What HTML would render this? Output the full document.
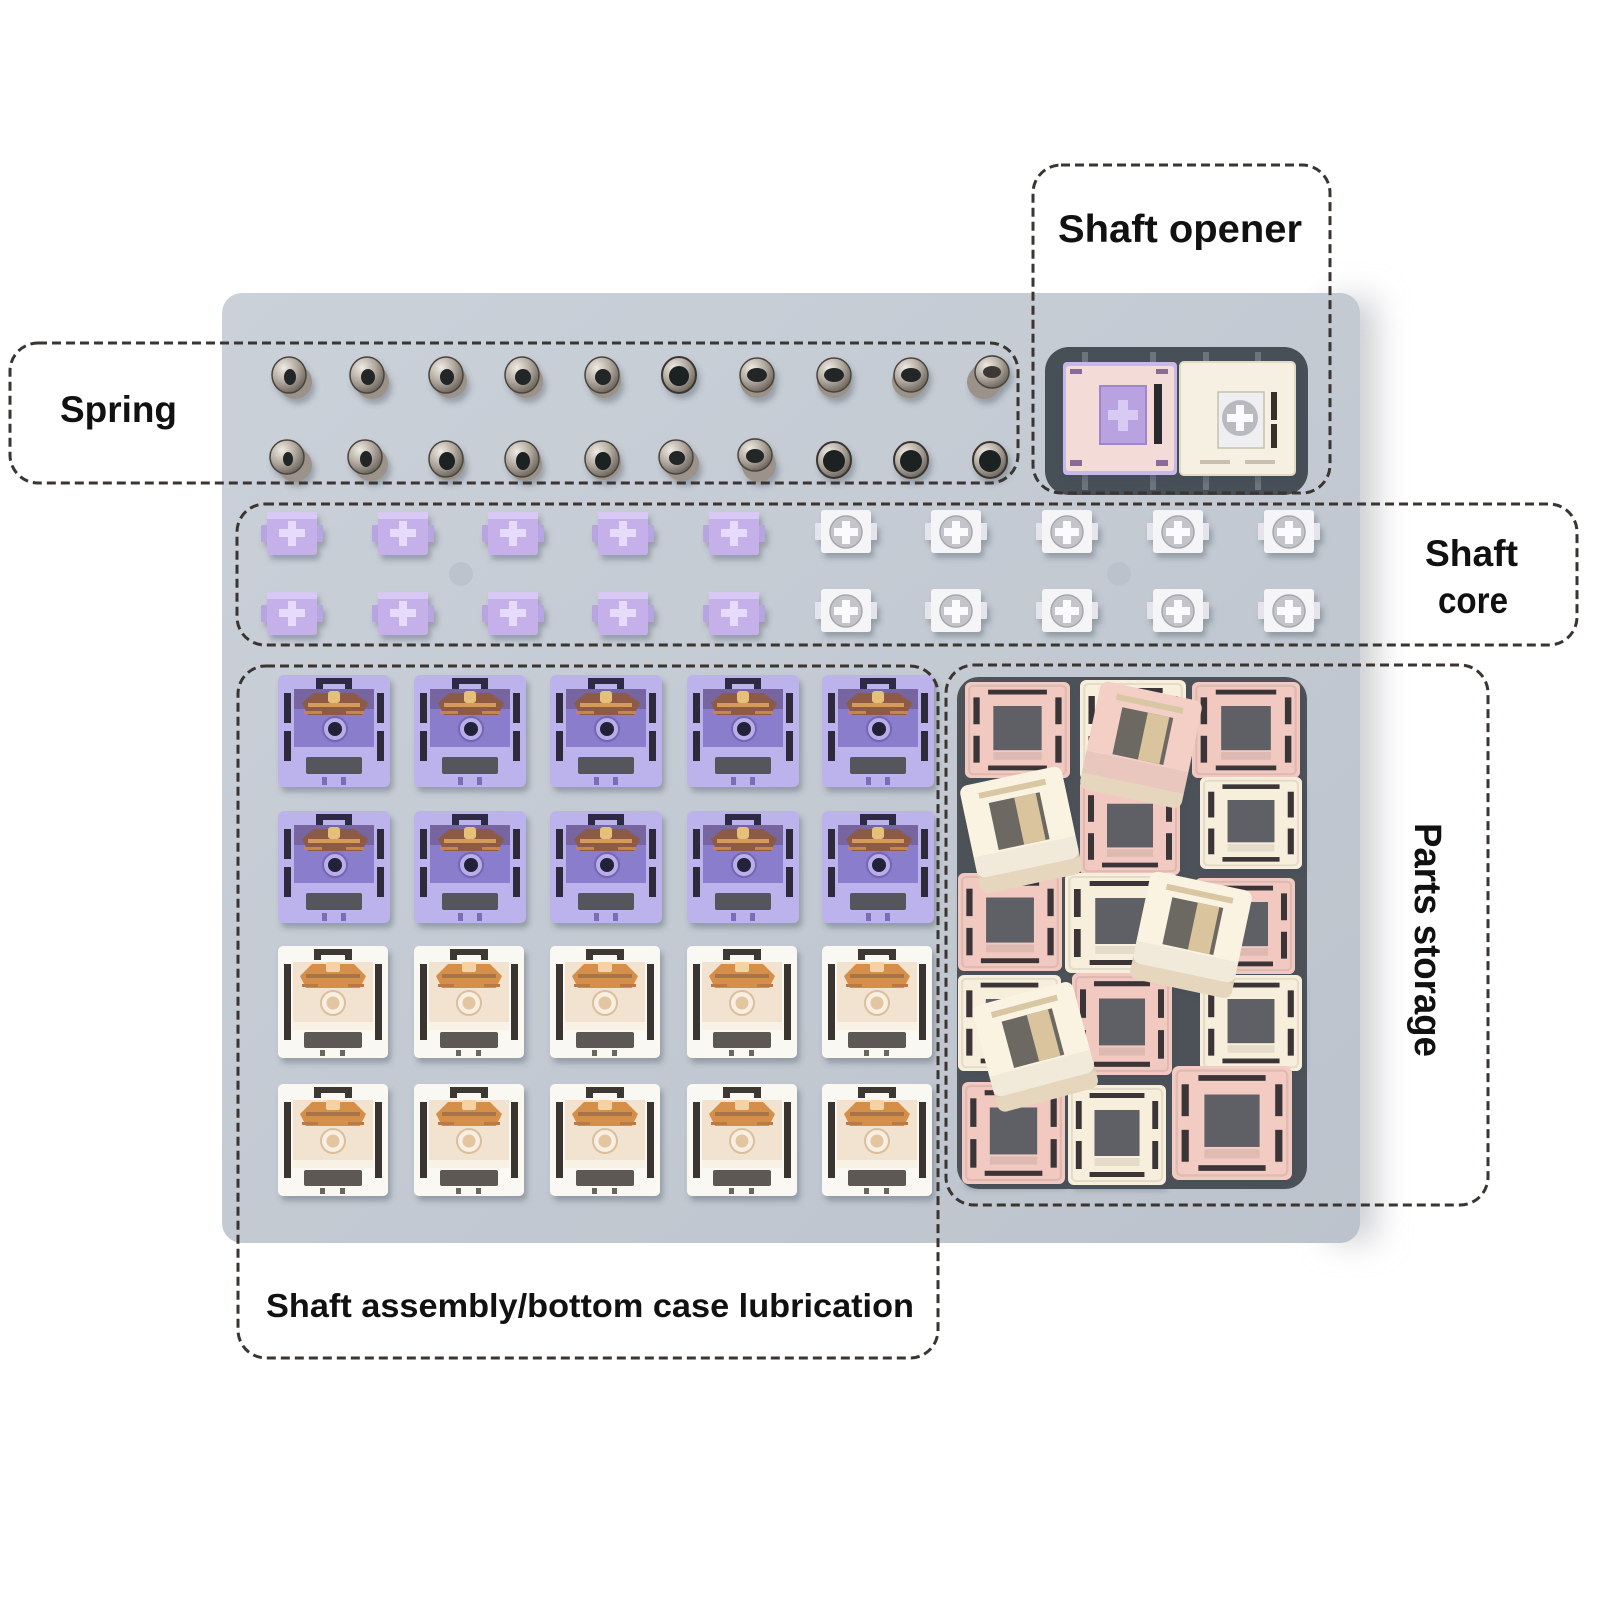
<!DOCTYPE html>
<html><head><meta charset="utf-8"><style>
html,body{margin:0;padding:0;background:#fff;}
svg{display:block;}
text{font-family:"Liberation Sans",Arial,sans-serif;font-weight:700;fill:#111;}
</style></head><body>
<svg width="1600" height="1600" viewBox="0 0 1600 1600" xmlns="http://www.w3.org/2000/svg">
<defs>
  <linearGradient id="tray" x1="0" y1="0" x2="1" y2="1">
    <stop offset="0" stop-color="#cbd1d9"/><stop offset="1" stop-color="#bcc3cc"/>
  </linearGradient>
  <radialGradient id="metal" cx="0.35" cy="0.3" r="0.8">
    <stop offset="0" stop-color="#efebe4"/><stop offset="0.5" stop-color="#b1a99f"/><stop offset="1" stop-color="#5e574f"/>
  </radialGradient>
  <filter id="ds" x="-30%" y="-30%" width="160%" height="160%">
    <feDropShadow dx="3" dy="5" stdDeviation="3" flood-color="#3e4852" flood-opacity="0.35"/>
  </filter>
  <filter id="blur14" filterUnits="userSpaceOnUse" x="1250" y="240" width="250" height="1060">
    <feGaussianBlur stdDeviation="16"/>
  </filter>

  <!-- purple switch bottom -->
  <g id="swp">
    <rect x="0" y="0" width="112" height="112" rx="6" fill="#bdb3ec"/>
    <rect x="16" y="14" width="80" height="64" fill="#8a7dcb"/>
    <rect x="16" y="14" width="80" height="20" fill="#76659f"/>
    <rect x="6" y="18" width="7" height="30" fill="#2d2a3a"/>
    <rect x="6" y="56" width="7" height="30" fill="#2d2a3a"/>
    <rect x="99" y="18" width="7" height="30" fill="#2d2a3a"/>
    <rect x="99" y="56" width="7" height="30" fill="#2d2a3a"/>
    <path d="M38 3 h36 v11 h-7 v-5 h-22 v5 h-7z" fill="#2f2b44"/>
    <path d="M24 28 L36 18 H76 L90 28 L84 40 H30 Z" fill="#8c5a44"/>
    <rect x="30" y="28" width="52" height="4" fill="#d69a5c"/>
    <rect x="50" y="16" width="12" height="12" rx="3" fill="#e6c07a"/>
    <rect x="26" y="36" width="18" height="3" fill="#c7844c"/>
    <rect x="68" y="36" width="18" height="3" fill="#c7844c"/>
    <circle cx="57" cy="54" r="12" fill="#b9aee8" stroke="#7566b4" stroke-width="2"/>
    <circle cx="57" cy="54" r="7" fill="#23223a"/>
    <rect x="16" y="72" width="80" height="8" fill="#bdb3ec"/>
    <rect x="28" y="82" width="56" height="17" rx="2" fill="#55565c"/>
    <rect x="44" y="102" width="5" height="8" fill="#7a6db6"/>
    <rect x="63" y="102" width="5" height="8" fill="#7a6db6"/>
  </g>
  <!-- cream switch bottom -->
  <g id="swc">
    <rect x="0" y="0" width="110" height="112" rx="5" fill="#faf8f3"/>
    <rect x="15" y="16" width="80" height="62" fill="#f2e3d1"/>
    <rect x="6" y="18" width="7" height="76" fill="#3a3532"/>
    <rect x="97" y="18" width="7" height="76" fill="#3a3532"/>
    <path d="M36 3 h38 v11 h-7 v-5 h-24 v5 h-7z" fill="#3d3733"/>
    <path d="M22 30 L34 18 H76 L88 30 L82 42 H28 Z" fill="#d58f4a"/>
    <rect x="28" y="28" width="54" height="4" fill="#a8744a"/>
    <rect x="48" y="16" width="14" height="10" rx="2" fill="#f3d3a4"/>
    <rect x="24" y="38" width="16" height="3" fill="#b97a44"/>
    <rect x="70" y="38" width="16" height="3" fill="#b97a44"/>
    <circle cx="55" cy="57" r="12" fill="#f8efe2" stroke="#d9bf9d" stroke-width="2"/>
    <circle cx="55" cy="57" r="6.5" fill="#e3c6a0"/>
    <rect x="15" y="76" width="80" height="8" fill="#f8f1e6"/>
    <rect x="26" y="86" width="58" height="16" rx="2" fill="#5d5955"/>
    <rect x="42" y="104" width="5" height="6" fill="#6d6661"/>
    <rect x="62" y="104" width="5" height="6" fill="#6d6661"/>
  </g>
  <!-- storage housing flat -->
  <g id="hs">
    <rect x="0" y="0" width="100" height="100" rx="6" fill="currentColor"/>
    <rect x="4" y="4" width="92" height="92" rx="4" fill="none" stroke="#000" stroke-opacity="0.08" stroke-width="2"/>
    <rect x="27" y="25" width="46" height="46" fill="#5f6166"/>
    <rect x="8" y="16" width="6" height="28" fill="#3b3638"/>
    <rect x="8" y="56" width="6" height="28" fill="#3b3638"/>
    <rect x="86" y="16" width="6" height="28" fill="#3b3638"/>
    <rect x="86" y="56" width="6" height="28" fill="#3b3638"/>
    <rect x="22" y="8" width="56" height="5" fill="#3b3638"/>
    <rect x="22" y="87" width="56" height="5" fill="#3b3638"/>
    <rect x="27" y="73" width="46" height="8" fill="#000" opacity="0.08"/>
  </g>
  <!-- tilted housing (3D) -->
  <g id="ht">
    <rect x="0" y="10" width="104" height="100" rx="8" fill="#e5d6bd"/>
    <rect x="0" y="0" width="104" height="94" rx="8" fill="currentColor"/>
    <rect x="26" y="22" width="52" height="48" fill="#6c6862"/>
    <rect x="52" y="22" width="22" height="48" fill="#d9c49e"/>
    <rect x="18" y="10" width="68" height="6" fill="#d9c7a4"/>
    <rect x="0" y="72" width="104" height="22" fill="#000" opacity="0.04"/>
  </g>
  <!-- purple core -->
  <g id="pc">
    <rect x="-31" y="-8" width="8" height="17" rx="1" fill="#b9a4e2"/><rect x="23" y="-8" width="8" height="17" rx="1" fill="#b9a4e2"/>
    <rect x="-25" y="-21" width="50" height="43" rx="3" fill="#c5b0ea"/><rect x="-25" y="-21" width="50" height="7" fill="#d8c9f4"/>
    <path d="M-4 -12h8v8h9v8h-9v9h-8v-9h-9v-8h9z" fill="#e6dbfb"/>
  </g>
  <!-- white core -->
  <g id="wc">
    <rect x="-31" y="-8" width="8" height="17" rx="1" fill="#e4e4ea"/><rect x="23" y="-8" width="8" height="17" rx="1" fill="#e4e4ea"/>
    <rect x="-25" y="-21" width="50" height="43" rx="3" fill="#f5f5f8"/>
    <circle cx="0" cy="1" r="16" fill="#c4c5cb" stroke="#a7a8ae" stroke-width="1.5"/>
    <path d="M-4 -10h8v7h8v8h-8v8h-8v-8h-8v-8h8z" fill="#fbfbfd"/>
  </g>
</defs>

<rect width="1600" height="1600" fill="#fff"/>

<!-- tray shadow & tray -->
<rect x="1330" y="300" width="45" height="940" fill="#c9cbcf" filter="url(#blur14)"/>
<rect x="222" y="293" width="1138" height="950" rx="20" fill="url(#tray)"/>

<!-- dimples -->
<circle cx="461" cy="574" r="12" fill="#b8bfc8" opacity="0.7"/>
<circle cx="1119" cy="574" r="12" fill="#b8bfc8" opacity="0.7"/>

<!-- springs -->
<g id="springs" filter="url(#ds)">
  <g transform="translate(289,375)"><line x1="0" y1="0" x2="6" y2="7" stroke="#9b9289" stroke-width="34" stroke-linecap="round"/><ellipse rx="17" ry="18" fill="url(#metal)" stroke="#4a443e" stroke-width="1.5"/><ellipse cx="1" cy="2" rx="6" ry="8" fill="#232528"/></g>
  <g transform="translate(367,375)"><line x1="0" y1="0" x2="5" y2="7" stroke="#9b9289" stroke-width="34" stroke-linecap="round"/><ellipse rx="17" ry="18" fill="url(#metal)" stroke="#4a443e" stroke-width="1.5"/><ellipse cx="1" cy="2" rx="7" ry="8" fill="#232528"/></g>
  <g transform="translate(446,375)"><line x1="0" y1="0" x2="4" y2="6" stroke="#9b9289" stroke-width="34" stroke-linecap="round"/><ellipse rx="17" ry="18" fill="url(#metal)" stroke="#4a443e" stroke-width="1.5"/><ellipse cx="1" cy="2" rx="7" ry="8" fill="#232528"/></g>
  <g transform="translate(522,375)"><line x1="0" y1="0" x2="4" y2="6" stroke="#9b9289" stroke-width="34" stroke-linecap="round"/><ellipse rx="17" ry="18" fill="url(#metal)" stroke="#4a443e" stroke-width="1.5"/><ellipse cx="1" cy="2" rx="8" ry="8" fill="#232528"/></g>
  <g transform="translate(602,375)"><line x1="0" y1="0" x2="2" y2="6" stroke="#9b9289" stroke-width="34" stroke-linecap="round"/><ellipse rx="17" ry="18" fill="url(#metal)" stroke="#4a443e" stroke-width="1.5"/><ellipse cx="1" cy="2" rx="8" ry="8" fill="#232528"/></g>
  <g transform="translate(679,375)"><ellipse rx="17" ry="18" fill="url(#metal)" stroke="#3a3530" stroke-width="2"/><ellipse cx="0" cy="1" rx="10" ry="10" fill="#1e2024"/></g>
  <g transform="translate(757,375)"><line x1="0" y1="0" x2="0" y2="6" stroke="#9b9289" stroke-width="34" stroke-linecap="round"/><ellipse rx="17" ry="17" fill="url(#metal)" stroke="#4a443e" stroke-width="1.5"/><ellipse cx="0" cy="0" rx="10" ry="7" fill="#232528"/></g>
  <g transform="translate(834,375)"><line x1="0" y1="0" x2="0" y2="6" stroke="#9b9289" stroke-width="34" stroke-linecap="round"/><ellipse rx="17" ry="17" fill="url(#metal)" stroke="#4a443e" stroke-width="1.5"/><ellipse cx="0" cy="0" rx="10" ry="7" fill="#232528"/></g>
  <g transform="translate(911,375)"><line x1="0" y1="0" x2="-2" y2="6" stroke="#9b9289" stroke-width="34" stroke-linecap="round"/><ellipse rx="17" ry="17" fill="url(#metal)" stroke="#4a443e" stroke-width="1.5"/><ellipse cx="0" cy="0" rx="10" ry="7" fill="#232528"/></g>
  <g transform="translate(992,372)"><line x1="0" y1="0" x2="-8" y2="10" stroke="#9b9289" stroke-width="34" stroke-linecap="round"/><ellipse rx="17" ry="16" fill="url(#metal)" stroke="#4a443e" stroke-width="1.5"/><ellipse cx="0" cy="0" rx="9" ry="6" fill="#3a3836"/></g>

  <g transform="translate(287,457)"><line x1="0" y1="0" x2="8" y2="8" stroke="#9b9289" stroke-width="34" stroke-linecap="round"/><ellipse rx="17" ry="17" fill="url(#metal)" stroke="#4a443e" stroke-width="1.5"/><ellipse cx="1" cy="2" rx="5" ry="7" fill="#232528"/></g>
  <g transform="translate(365,457)"><line x1="0" y1="0" x2="6" y2="7" stroke="#9b9289" stroke-width="34" stroke-linecap="round"/><ellipse rx="17" ry="17" fill="url(#metal)" stroke="#4a443e" stroke-width="1.5"/><ellipse cx="1" cy="2" rx="6" ry="8" fill="#232528"/></g>
  <g transform="translate(446,459)"><line x1="0" y1="0" x2="2" y2="4" stroke="#9b9289" stroke-width="34" stroke-linecap="round"/><ellipse rx="17" ry="18" fill="url(#metal)" stroke="#4a443e" stroke-width="1.5"/><ellipse cx="1" cy="2" rx="8" ry="9" fill="#1e2024"/></g>
  <g transform="translate(522,459)"><line x1="0" y1="0" x2="3" y2="5" stroke="#9b9289" stroke-width="34" stroke-linecap="round"/><ellipse rx="17" ry="18" fill="url(#metal)" stroke="#4a443e" stroke-width="1.5"/><ellipse cx="1" cy="2" rx="7" ry="9" fill="#1e2024"/></g>
  <g transform="translate(602,459)"><line x1="0" y1="0" x2="2" y2="4" stroke="#9b9289" stroke-width="34" stroke-linecap="round"/><ellipse rx="17" ry="18" fill="url(#metal)" stroke="#4a443e" stroke-width="1.5"/><ellipse cx="1" cy="2" rx="8" ry="9" fill="#1e2024"/></g>
  <g transform="translate(676,457)"><line x1="0" y1="0" x2="6" y2="7" stroke="#9b9289" stroke-width="34" stroke-linecap="round"/><ellipse rx="17" ry="17" fill="url(#metal)" stroke="#4a443e" stroke-width="1.5"/><ellipse cx="1" cy="1" rx="8" ry="7" fill="#232528"/></g>
  <g transform="translate(755,455)"><line x1="0" y1="0" x2="4" y2="10" stroke="#9b9289" stroke-width="34" stroke-linecap="round"/><ellipse rx="17" ry="16" fill="url(#metal)" stroke="#4a443e" stroke-width="1.5"/><ellipse cx="0" cy="1" rx="9" ry="7" fill="#232528"/></g>
  <g transform="translate(834,460)"><ellipse rx="17" ry="18" fill="url(#metal)" stroke="#3a3530" stroke-width="2"/><ellipse cx="0" cy="1" rx="11" ry="11" fill="#1e2024"/></g>
  <g transform="translate(911,460)"><ellipse rx="17" ry="18" fill="url(#metal)" stroke="#3a3530" stroke-width="2"/><ellipse cx="0" cy="1" rx="11" ry="11" fill="#1e2024"/></g>
  <g transform="translate(990,460)"><ellipse rx="17" ry="18" fill="url(#metal)" stroke="#3a3530" stroke-width="2"/><ellipse cx="0" cy="1" rx="11" ry="11" fill="#1e2024"/></g>
</g>

<!-- shaft cores -->
<g filter="url(#ds)">
  <use href="#pc" x="292" y="533"/><use href="#pc" x="403" y="533"/><use href="#pc" x="513" y="533"/><use href="#pc" x="623" y="533"/><use href="#pc" x="734" y="533"/>
  <use href="#pc" x="292" y="613"/><use href="#pc" x="403" y="613"/><use href="#pc" x="513" y="613"/><use href="#pc" x="623" y="613"/><use href="#pc" x="734" y="613"/>
  <use href="#wc" x="846" y="531"/><use href="#wc" x="956" y="531"/><use href="#wc" x="1067" y="531"/><use href="#wc" x="1178" y="531"/><use href="#wc" x="1289" y="531"/>
  <use href="#wc" x="846" y="610"/><use href="#wc" x="956" y="610"/><use href="#wc" x="1067" y="610"/><use href="#wc" x="1178" y="610"/><use href="#wc" x="1289" y="610"/>
</g>

<!-- switch bottoms grid -->
<g filter="url(#ds)">
  <use href="#swp" x="278" y="675"/><use href="#swp" x="414" y="675"/><use href="#swp" x="550" y="675"/><use href="#swp" x="687" y="675"/><use href="#swp" x="822" y="675"/>
  <use href="#swp" x="278" y="811"/><use href="#swp" x="414" y="811"/><use href="#swp" x="550" y="811"/><use href="#swp" x="687" y="811"/><use href="#swp" x="822" y="811"/>
  <use href="#swc" x="278" y="946"/><use href="#swc" x="414" y="946"/><use href="#swc" x="550" y="946"/><use href="#swc" x="687" y="946"/><use href="#swc" x="822" y="946"/>
  <use href="#swc" x="278" y="1084"/><use href="#swc" x="414" y="1084"/><use href="#swc" x="550" y="1084"/><use href="#swc" x="687" y="1084"/><use href="#swc" x="822" y="1084"/>
</g>

<!-- shaft opener recess -->
<rect x="1045" y="347" width="263" height="148" rx="24" fill="#474f57"/>
<rect x="1082" y="352" width="6" height="138" fill="#6c757d"/>
<rect x="1150" y="352" width="6" height="138" fill="#6c757d"/>
<rect x="1203" y="352" width="6" height="138" fill="#6c757d"/>
<rect x="1255" y="352" width="6" height="138" fill="#6c757d"/>
<g filter="url(#ds)">
  <rect x="1063" y="362" width="114" height="113" rx="4" fill="#c8b8ea"/>
  <rect x="1066" y="366" width="108" height="105" rx="3" fill="#f3dcd8"/>
  <rect x="1100" y="386" width="46" height="58" fill="#b8a2df" stroke="#9d86c9" stroke-width="2"/>
  <path d="M1118 400h10v10h10v10h-10v11h-10v-11h-10v-10h10z" fill="#d8cbf3"/>
  <rect x="1154" y="384" width="8" height="60" fill="#2b2a2e"/>
  <rect x="1070" y="369" width="12" height="5" fill="#8b6a9a"/>
  <rect x="1156" y="369" width="12" height="5" fill="#8b6a9a"/>
  <rect x="1070" y="460" width="12" height="6" fill="#8b6a9a"/>
  <rect x="1156" y="460" width="12" height="6" fill="#8b6a9a"/>
  <rect x="1180" y="362" width="115" height="113" rx="4" fill="#f6f0e2" stroke="#e2d9c6" stroke-width="2"/>
  <rect x="1218" y="392" width="46" height="56" fill="#efeff2" stroke="#c8bfae" stroke-width="1.5"/>
  <circle cx="1240" cy="418" r="18" fill="#b9bac0"/>
  <path d="M1236 405h8v9h9v8h-9v9h-8v-9h-9v-8h9z" fill="#fbfbfd"/>
  <rect x="1271" y="392" width="6" height="28" fill="#35302c"/>
  <rect x="1271" y="424" width="6" height="24" fill="#35302c"/>
  <rect x="1200" y="460" width="30" height="4" fill="#c9bfae"/>
  <rect x="1245" y="460" width="30" height="4" fill="#c9bfae"/>
</g>

<!-- parts storage recess -->
<rect x="957" y="677" width="350" height="512" rx="22" fill="#4d5259"/>
<g filter="url(#ds)">
  <use href="#hs" style="color:#f1c9c1" transform="translate(965,682) scale(1.05,0.96)"/>
  <use href="#hs" style="color:#f8eedc" transform="translate(1080,680) scale(1.06,1.0)"/>
  <use href="#hs" style="color:#f1c9c1" transform="translate(1192,682) scale(1.08,0.96)"/>
  <use href="#hs" style="color:#f1c9c1" transform="translate(1080,780) scale(1.0,0.95)"/>
  <use href="#hs" style="color:#f8eedc" transform="translate(1200,777) scale(1.02,0.92)"/>
  <use href="#hs" style="color:#f1c9c1" transform="translate(958,873) scale(1.04,0.98)"/>
  <use href="#hs" style="color:#f1c9c1" transform="translate(1195,878) scale(1.0,0.96)"/>
  <use href="#hs" style="color:#f8eedc" transform="translate(1065,873) scale(1.12,1.0)"/>
  <use href="#hs" style="color:#f8eedc" transform="translate(958,975) scale(1.03,0.96)"/>
  <use href="#hs" style="color:#f1c9c1" transform="translate(1072,973) scale(1.0,1.02)"/>
  <use href="#hs" style="color:#f8eedc" transform="translate(1200,975) scale(1.02,0.96)"/>
  <use href="#hs" style="color:#f1c9c1" transform="translate(962,1082) scale(1.03,1.02)"/>
  <use href="#hs" style="color:#f8eedc" transform="translate(1068,1085) scale(0.98,1.0)"/>
  <use href="#hs" style="color:#f2cbc2" transform="translate(1172,1066) scale(1.2,1.14)"/>
  <use href="#ht" style="color:#f3cfc6" transform="translate(1090,690) rotate(12 52 50)"/>
  <use href="#ht" style="color:#fbf3e2" transform="translate(968,775) rotate(-12 52 50)"/>
  <use href="#ht" style="color:#fbf3e2" transform="translate(1140,880) rotate(12 52 50)"/>
  <use href="#ht" style="color:#fbf3e2" transform="translate(982,992) rotate(-15 52 50)"/>
</g>

<!-- dashed label boxes -->
<g fill="none" stroke="#3b3532" stroke-width="3" stroke-dasharray="9 5">
  <rect x="10" y="343" width="1008" height="140" rx="28"/>
  <rect x="1033" y="165" width="297" height="328" rx="28"/>
  <rect x="237" y="504" width="1340" height="141" rx="28"/>
  <rect x="238" y="666" width="700" height="692" rx="28"/>
  <rect x="946" y="665" width="542" height="540" rx="28"/>
</g>

<!-- labels -->
<text x="60" y="422" font-size="37" textLength="117" lengthAdjust="spacingAndGlyphs">Spring</text>
<text x="1058" y="242" font-size="39" textLength="244" lengthAdjust="spacingAndGlyphs">Shaft opener</text>
<text x="1425" y="566" font-size="37" textLength="93" lengthAdjust="spacingAndGlyphs">Shaft</text>
<text x="1438" y="613" font-size="37" textLength="70" lengthAdjust="spacingAndGlyphs">core</text>
<text transform="translate(1415,940) rotate(90)" text-anchor="middle" font-size="38" textLength="234" lengthAdjust="spacingAndGlyphs">Parts storage</text>
<text x="266" y="1317" font-size="33" textLength="648" lengthAdjust="spacingAndGlyphs">Shaft assembly/bottom case lubrication</text>
</svg>
</body></html>
